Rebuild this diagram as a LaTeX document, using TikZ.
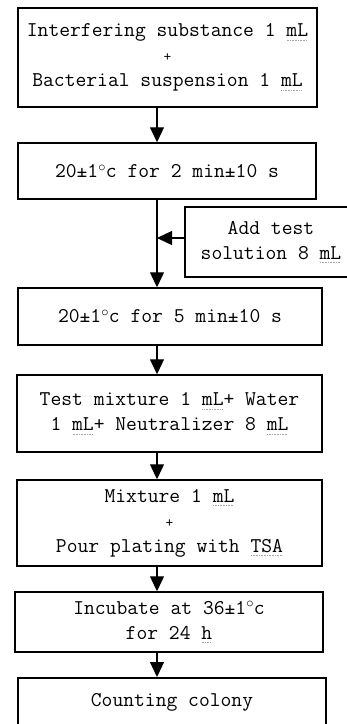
\documentclass[tikz,border=0pt]{standalone}
\usetikzlibrary{arrows.meta}
\newcommand\sq[1]{\setbox0=\hbox{#1}\rlap{\raisebox{-4pt}{\color{gray!70}\leaders\hbox to 1.6pt{\hss\rule{0.8pt}{0.8pt}\hss}\hskip\wd0}}#1}
\newcommand\degc{\mbox{\raisebox{0.3em}{\fontsize{14}{14}\selectfont\rmfamily$\circ$}\kern0.02em c}}
\newcommand\plus{{\fontsize{15}{25}\selectfont +}}
\begin{document}
\begin{tikzpicture}[x=1pt,y=-1pt,
  box/.style={draw,line width=1.5pt,inner sep=0pt,align=center,
    font=\fontsize{21}{25}\selectfont\ttfamily},
  arr/.style={line width=1.3pt,-{Triangle[length=15pt,width=14pt]}}]
\useasboundingbox (0,0) rectangle (347,724);
\node[box,minimum width=299pt,minimum height=99pt] (b1) at (167.5,57.5)
  {Interfering substance 1 \sq{mL}\\ \plus\\ Bacterial suspension 1 \sq{mL}};
\node[box,minimum width=298pt,minimum height=56pt] (b2) at (167,171)
  {20±1\degc{} for 2 min±10 s};
\node[box,minimum width=172pt,minimum height=70pt] (side) at (271,242)
  {Add test\\ solution 8 \sq{mL}};
\node[box,minimum width=304pt,minimum height=57pt] (b3) at (170,316.5)
  {20±1\degc{} for 5 min±10 s};
\node[box,minimum width=305pt,minimum height=77pt] (b4) at (169.5,413.5)
  {Test mixture 1 \sq{mL}+ Water\\ 1 \sq{mL}+ Neutralizer 8 \sq{mL}};
\node[box,minimum width=305pt,minimum height=86pt] (b5) at (169.5,523)
  {Mixture 1 \sq{mL}\\ \plus\\ Pour plating with \sq{TSA}};
\node[box,minimum width=308pt,minimum height=60pt] (b6) at (169,622)
  {Incubate at 36±1\degc\\ for 24 \sq{h}};
\node[box,minimum width=308pt,minimum height=50pt,anchor=north] (b7) at (172,677) {};
\node[font=\fontsize{21}{25}\selectfont\ttfamily] (t7) at (172,702) {Counting colony};
\coordinate (ax) at (157,0);
\draw[arr] (b1.south -| ax) -- (b2.north -| ax);
\draw[arr] (b2.south -| ax) -- (b3.north -| ax);
\draw[arr] ([yshift=4pt]side.west) -- ([yshift=4pt]side.west -| ax);
\draw[arr] (b3.south -| ax) -- (b4.north -| ax);
\draw[arr] (b4.south -| ax) -- (b5.north -| ax);
\draw[arr] (b5.south -| ax) -- (b6.north -| ax);
\draw[arr] (b6.south -| ax) -- (b7.north -| ax);
\end{tikzpicture}
\end{document}
